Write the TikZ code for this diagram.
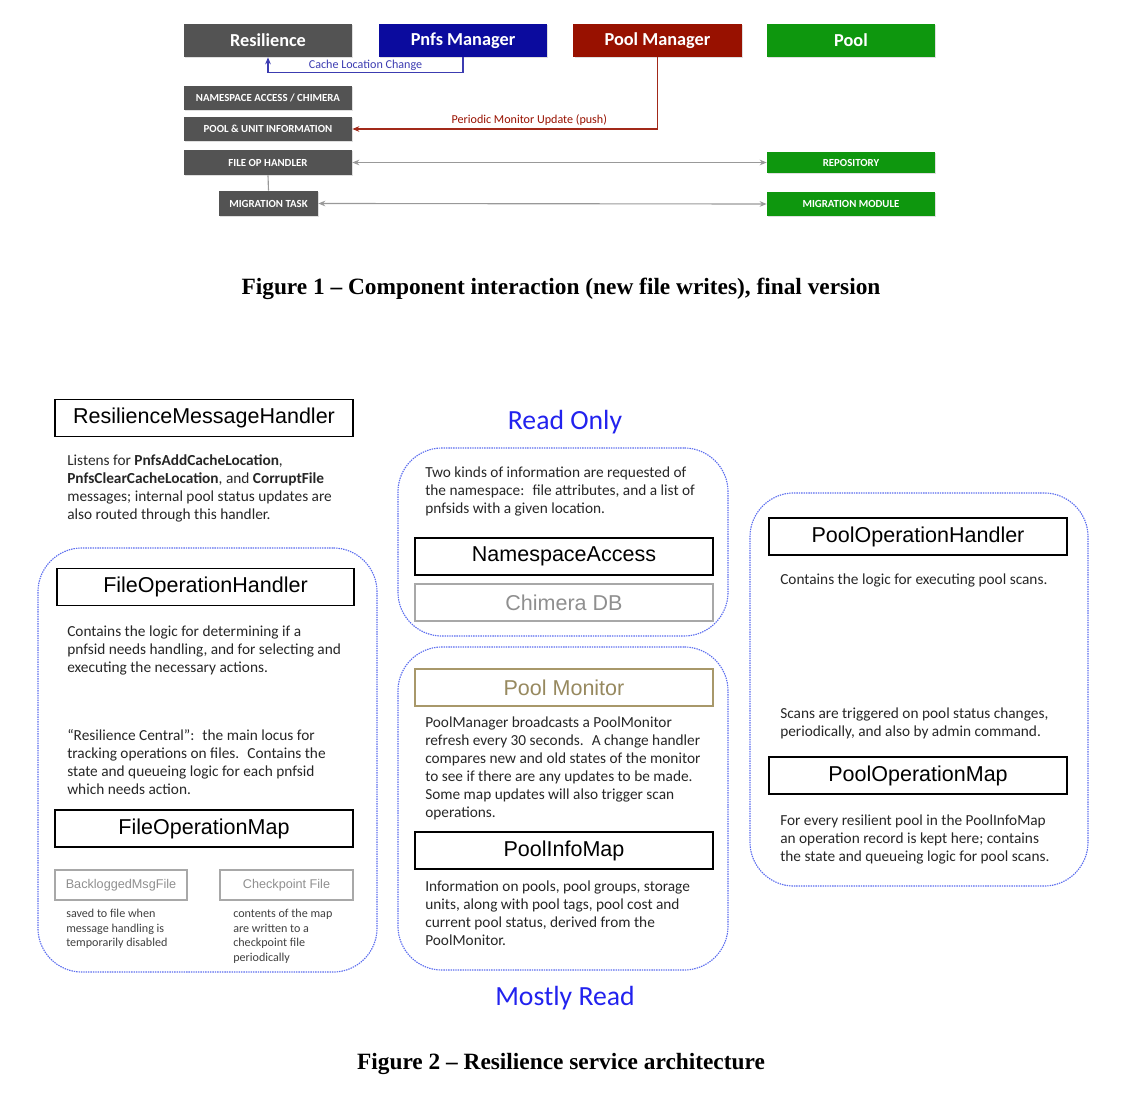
\documentclass[tikz,border=0pt]{standalone}
\usepackage{fontspec}
\setmainfont{Carlito}
\newfontfamily\arialfam{Liberation Sans}
\newfontfamily\timesfam[Ligatures=TeX]{Liberation Serif}
\usepackage{tikz}
\usetikzlibrary{positioning, shadows, arrows.meta}
\definecolor{cellgrey}{HTML}{535353}
\definecolor{pnfsblue}{HTML}{0B0B9E}
\definecolor{mgrred}{HTML}{981100}
\definecolor{poolgreen}{HTML}{0E970E}
\definecolor{dotblue}{HTML}{5A6CEE}
\definecolor{titleblue}{HTML}{2222EE}
\definecolor{monitortan}{HTML}{A8986A}
\definecolor{filegrey}{HTML}{A8A8A8}
\newcommand\rsnote{\fontsize{10.9}{12.8}\selectfont}
\newcommand\rssmall{\fontsize{8.6}{10.3}\selectfont}
\newcommand\rsclass{\arialfam\fontsize{15.3}{17}\selectfont}
\newcommand\rscaption{\timesfam\bfseries\fontsize{16.6}{19}\selectfont}
\tikzstyle{topbox} = [rectangle, minimum width=4.2cm, minimum height=0.825cm, text=white, font=\bfseries\fontsize{13}{15}\selectfont, drop shadow={opacity=0.25, shadow xshift=0.8pt, shadow yshift=-0.8pt}]
\tikzstyle{subbox} = [rectangle, minimum width=4.2cm, minimum height=0.6cm, fill=cellgrey, text=white, font=\bfseries\fontsize{7.7}{9}\selectfont, drop shadow={opacity=0.25, shadow xshift=0.8pt, shadow yshift=-0.8pt}]
\tikzstyle{classbox} = [rectangle, draw=black, line width=1.2pt, minimum width=7.45cm, minimum height=0.92cm, font=\rsclass]
\tikzstyle{filebox} = [rectangle, draw=filegrey, line width=1.1pt, text=filegrey!85!black, minimum width=7.45cm, minimum height=0.92cm, font=\rsclass]
\tikzstyle{container} = [rectangle, rounded corners=1.1cm, draw=dotblue, line width=0.8pt, dash pattern=on 1pt off 0.7pt]
\tikzstyle{note} = [anchor=north west, align=left, inner sep=0pt, text=black!85, font=\rsnote]
\tikzstyle{arrow} = [-{Stealth[length=5pt,width=4pt]}, line width=0.8pt]
\tikzstyle{twoway} = [{Stealth[length=5pt,width=4pt]}-{Stealth[length=5pt,width=4pt]}, black!40, line width=0.8pt]

\begin{document}
\begin{tikzpicture}[x=0.025cm, y=-0.025cm]
    \useasboundingbox (0,0) rectangle (1127,1097);

    % Figure 1
    \node (resil) [topbox, fill=cellgrey] at (268,40.5) {Resilience};
    \node (pnfs) [topbox, fill=pnfsblue] at (463,40.5) {Pnfs Manager};
    \node (poolmgr) [topbox, fill=mgrred] at (657.5,40.5) {Pool Manager};
    \node (pool) [topbox, fill=poolgreen] at (851,40.5) {Pool};

    \node (nsaccess) [subbox] at (268,98) {NAMESPACE ACCESS / CHIMERA};
    \node (poolunit) [subbox] at (268,129) {POOL \& UNIT INFORMATION};
    \node (fileop) [subbox, minimum height=0.625cm] at (268,162.5) {FILE OP HANDLER};
    \node (migtask) [subbox, minimum width=2.475cm, minimum height=0.625cm] at (268.5,203.5) {MIGRATION TASK};
    \node (repo) [subbox, fill=poolgreen, minimum height=0.525cm] at (851,162.5) {REPOSITORY};
    \node (migmod) [subbox, fill=poolgreen] at (851,204) {MIGRATION MODULE};

    \draw [arrow, pnfsblue!80!white] (pnfs.south) -- ++(0,15) -| (resil.south)
        node[pos=0.25, above, inner sep=0.6pt, font=\fontsize{8.6}{10}\selectfont, text=pnfsblue!80!white] {Cache Location Change};
    \draw [arrow, mgrred!90!white] (poolmgr.south) |- (poolunit.east)
        node[pos=0.71, above, inner sep=2pt, font=\fontsize{8.6}{10}\selectfont, text=mgrred] {Periodic Monitor Update (push)};
    \draw [twoway] (fileop.east) -- (repo.west);
    \draw [twoway] (migtask.east) -- (migmod.west);
    \draw [black!40, line width=0.8pt] (fileop.south) -- (migtask.north);

    \node (cap1) [font=\rscaption] at (561,289) {Figure 1 – Component interaction (new file writes), final version};

    % Figure 2 containers
    \node (over1) [container, minimum width=8.475cm, minimum height=10.6cm] at (207.5,760) {};
    \node (over2) [container, minimum width=8.25cm, minimum height=4.7cm] at (563,542) {};
    \node (over3) [container, minimum width=8.25cm, minimum height=8.075cm] at (563,808.5) {};
    \node (over4) [container, minimum width=8.45cm, minimum height=9.825cm] at (919,689.5) {};

    % left column
    \node (rmh) [classbox] at (204,418) {ResilienceMessageHandler};
    \node (rmhtext) [note] at (67,454) {Listens for \textbf{PnfsAddCacheLocation},\\
    \textbf{PnfsClearCacheLocation}, and \textbf{CorruptFile}\\
    messages; internal pool status updates are\\
    also routed through this handler.};

    \node (fohandler) [classbox, minimum width=7.425cm] at (205.5,587) {FileOperationHandler};
    \node (fohtext) [note] at (67,626) {Contains the logic for determining if a\\
    pnfsid needs handling, and for selecting and\\
    executing the necessary actions.};
    \node (centraltext) [note] at (67,729) {“Resilience Central”:~ the main locus for\\
    tracking operations on files.~ Contains the\\
    state and queueing logic for each pnfsid\\
    which needs action.};

    \node (fomap) [classbox] at (204,828.5) {FileOperationMap};
    \node (backlog) [filebox, minimum width=3.3cm, minimum height=0.75cm, font=\arialfam\fontsize{9}{11}\selectfont] at (121,885) {BackloggedMsgFile};
    \node (checkpoint) [filebox, minimum width=3.325cm, minimum height=0.75cm, font=\arialfam\fontsize{9}{11}\selectfont] at (286.5,885) {Checkpoint File};
    \node (backlogtext) [note, font=\rssmall, text=black!75] at (66,909) {saved to file when\\
    message handling is\\
    temporarily disabled};
    \node (checkpointtext) [note, font=\rssmall, text=black!75] at (233,909) {contents of the map\\
    are written to a\\
    checkpoint file\\
    periodically};

    % middle column
    \node (readonly) [text=titleblue, font=\fontsize{19.7}{23}\selectfont] at (565,422) {Read Only};
    \node (nstext) [note] at (425,467) {Two kinds of information are requested of\\
    the namespace:~ file attributes, and a list of\\
    pnfsids with a given location.};
    \node (nsacc) [classbox] at (564,556.5) {NamespaceAccess};
    \node (chimera) [filebox] at (564,602.5) {Chimera DB};

    \node (poolmon) [filebox, draw=monitortan, text=monitortan!90!black] at (564,687.5) {Pool Monitor};
    \node (montext) [note] at (425,717) {PoolManager broadcasts a PoolMonitor\\
    refresh every 30 seconds.~ A change handler\\
    compares new and old states of the monitor\\
    to see if there are any updates to be made.\\
    Some map updates will also trigger scan\\
    operations.};
    \node (poolinfo) [classbox] at (564,850.5) {PoolInfoMap};
    \node (infotext) [note] at (425,881) {Information on pools, pool groups, storage\\
    units, along with pool tags, pool cost and\\
    current pool status, derived from the\\
    PoolMonitor.};
    \node (mostly) [text=titleblue, font=\fontsize{19.7}{23}\selectfont] at (565,998) {Mostly Read};

    % right column
    \node (pohandler) [classbox] at (918,536.5) {PoolOperationHandler};
    \node (pohtext) [note] at (780,574) {Contains the logic for executing pool scans.};
    \node (scantext) [note] at (780,708) {Scans are triggered on pool status changes,\\
    periodically, and also by admin command.};
    \node (pomap) [classbox] at (918,775.5) {PoolOperationMap};
    \node (pomtext) [note] at (780,815) {For every resilient pool in the PoolInfoMap\\
    an operation record is kept here; contains\\
    the state and queueing logic for pool scans.};

    \node (cap2) [font=\rscaption] at (561,1064) {Figure 2 – Resilience service architecture};

\end{tikzpicture}
\end{document}
